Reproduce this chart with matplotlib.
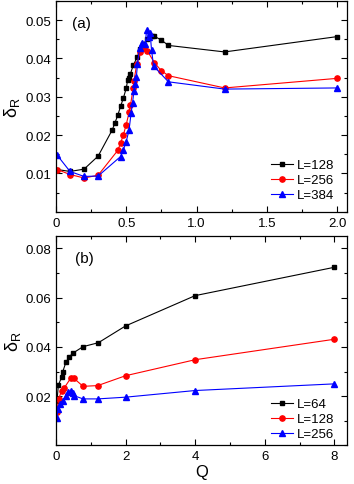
import matplotlib
matplotlib.use("Agg")
from matplotlib import pyplot as plt
from matplotlib.ticker import MultipleLocator

plt.rcParams['font.family'] = ['Liberation Sans', 'DejaVu Sans']

# panel (a)
q_a128 = [0.01, 0.1, 0.2, 0.3, 0.4, 0.42, 0.44, 0.46, 0.48, 0.5, 0.51, 0.52, 0.53,
          0.55, 0.58, 0.6, 0.62, 0.65, 0.68, 0.7, 0.75, 0.8, 1.2, 2.0]
d_a128 = [0.0110, 0.0105, 0.0111, 0.0145, 0.0213, 0.0232, 0.0252, 0.0275, 0.0297,
          0.0322, 0.0343, 0.0350, 0.0360, 0.0382, 0.0405, 0.0424, 0.0437, 0.0450,
          0.0458, 0.0458, 0.0448, 0.0434, 0.0417, 0.0457]

q_a256 = [0.01, 0.1, 0.2, 0.3, 0.44, 0.46, 0.48, 0.5, 0.52, 0.53, 0.55, 0.555,
          0.575, 0.6, 0.625, 0.65, 0.7, 0.75, 0.8, 1.2, 2.0]
d_a256 = [0.0110, 0.0097, 0.0088, 0.0095, 0.0160, 0.0179, 0.0201, 0.0227, 0.0259,
          0.0278, 0.0322, 0.0342, 0.0385, 0.0417, 0.0426, 0.0420, 0.0389, 0.0368,
          0.0355, 0.0323, 0.0348]

q_a384 = [0.01, 0.1, 0.2, 0.3, 0.46, 0.48, 0.5, 0.52, 0.535, 0.545, 0.555, 0.565,
          0.572, 0.58, 0.595, 0.615, 0.635, 0.645, 0.66, 0.67, 0.68, 0.695, 0.8,
          1.2, 2.0]
d_a384 = [0.0147, 0.0105, 0.0092, 0.0093, 0.0144, 0.0162, 0.0183, 0.0213, 0.0258,
          0.0284, 0.0316, 0.0333, 0.0351, 0.0385, 0.0428, 0.0441, 0.0437, 0.0474,
          0.0457, 0.0467, 0.0422, 0.0380, 0.0339, 0.0320, 0.0323]

# panel (b)
q_b64 = [0.03, 0.07, 0.16, 0.19, 0.29, 0.37, 0.48, 0.78, 1.22, 2.0, 4.0, 8.0]
d_b64 = [0.0180, 0.0245, 0.0276, 0.0297, 0.0339, 0.0357, 0.0374, 0.0401, 0.0417,
         0.0485, 0.0608, 0.0723]

q_b128 = [0.02, 0.08, 0.16, 0.23, 0.42, 0.52, 0.78, 1.2, 2.0, 4.0, 8.0]
d_b128 = [0.0135, 0.0189, 0.0222, 0.0232, 0.0272, 0.0272, 0.0240, 0.0243, 0.0283,
          0.0348, 0.0431]

q_b256 = [0.02, 0.07, 0.13, 0.19, 0.29, 0.35, 0.42, 0.48, 0.52, 0.78, 1.2, 2.0,
          4.0, 8.0]
d_b256 = [0.0111, 0.0149, 0.0169, 0.0182, 0.0202, 0.0218, 0.0221, 0.0213, 0.0202,
          0.0189, 0.0189, 0.0196, 0.0223, 0.0250]


def style_axes(ax):
    ax.tick_params(which='both', direction='in', top=True, right=True, labelsize=9.5)
    ax.tick_params(which='major', length=4, width=0.8)
    ax.tick_params(which='minor', length=2, width=0.8)
    for s in ax.spines.values():
        s.set_linewidth(0.9)


def add_legend(ax, y0):
    ax.legend(loc='lower right', bbox_to_anchor=(0.975, y0), frameon=False,
              fontsize=9.5, handlelength=1.7, handletextpad=0.3,
              labelspacing=0.2, borderaxespad=0)


fig = plt.figure(figsize=(3.54, 4.85), dpi=100)

ax1 = fig.add_axes([0.158, 0.5615, 0.822, 0.4344])
ax1.plot(q_a128, d_a128, 'k-s', ms=3.5, lw=0.8, label='L=128')
ax1.plot(q_a256, d_a256, '-o', color='#ff0000', ms=3.8, lw=0.8, label='L=256')
ax1.plot(q_a384, d_a384, '-^', color='#0000ff', ms=4, lw=0.8, label='L=384')
ax1.set_xlim(0, 2.07)
ax1.set_ylim(0, 0.055)
ax1.set_xticks([0, 0.5, 1.0, 1.5, 2.0])
ax1.set_xticklabels(['0', '0.5', '1.0', '1.5', '2.0'])
ax1.set_yticks([0.01, 0.02, 0.03, 0.04, 0.05])
ax1.set_yticklabels(['0.01', '0.02', '0.03', '0.04', '0.05'])
ax1.xaxis.set_minor_locator(MultipleLocator(0.25))
ax1.yaxis.set_minor_locator(MultipleLocator(0.005))
ax1.set_ylabel(r'$\mathregular{\delta_R}$', fontsize=13, labelpad=2)
ax1.text(0.055, 0.875, '(a)', transform=ax1.transAxes, fontsize=11)
add_legend(ax1, 0.025)
style_axes(ax1)

ax2 = fig.add_axes([0.158, 0.0794, 0.822, 0.432])
ax2.plot(q_b64, d_b64, 'k-s', ms=3.5, lw=0.8, label='L=64')
ax2.plot(q_b128, d_b128, '-o', color='#ff0000', ms=3.8, lw=0.8, label='L=128')
ax2.plot(q_b256, d_b256, '-^', color='#0000ff', ms=4, lw=0.8, label='L=256')
ax2.set_xlim(0, 8.36)
ax2.set_ylim(0, 0.085)
ax2.set_xticks([0, 2, 4, 6, 8])
ax2.set_yticks([0.02, 0.04, 0.06, 0.08])
ax2.set_yticklabels(['0.02', '0.04', '0.06', '0.08'])
ax2.xaxis.set_minor_locator(MultipleLocator(1))
ax2.yaxis.set_minor_locator(MultipleLocator(0.01))
ax2.set_ylabel(r'$\mathregular{\delta_R}$', fontsize=13, labelpad=2)
ax2.set_xlabel('Q', fontsize=12, labelpad=1)
ax2.text(0.065, 0.875, '(b)', transform=ax2.transAxes, fontsize=11)
add_legend(ax2, 0.0)
style_axes(ax2)

fig.savefig('out.png', dpi=100)
